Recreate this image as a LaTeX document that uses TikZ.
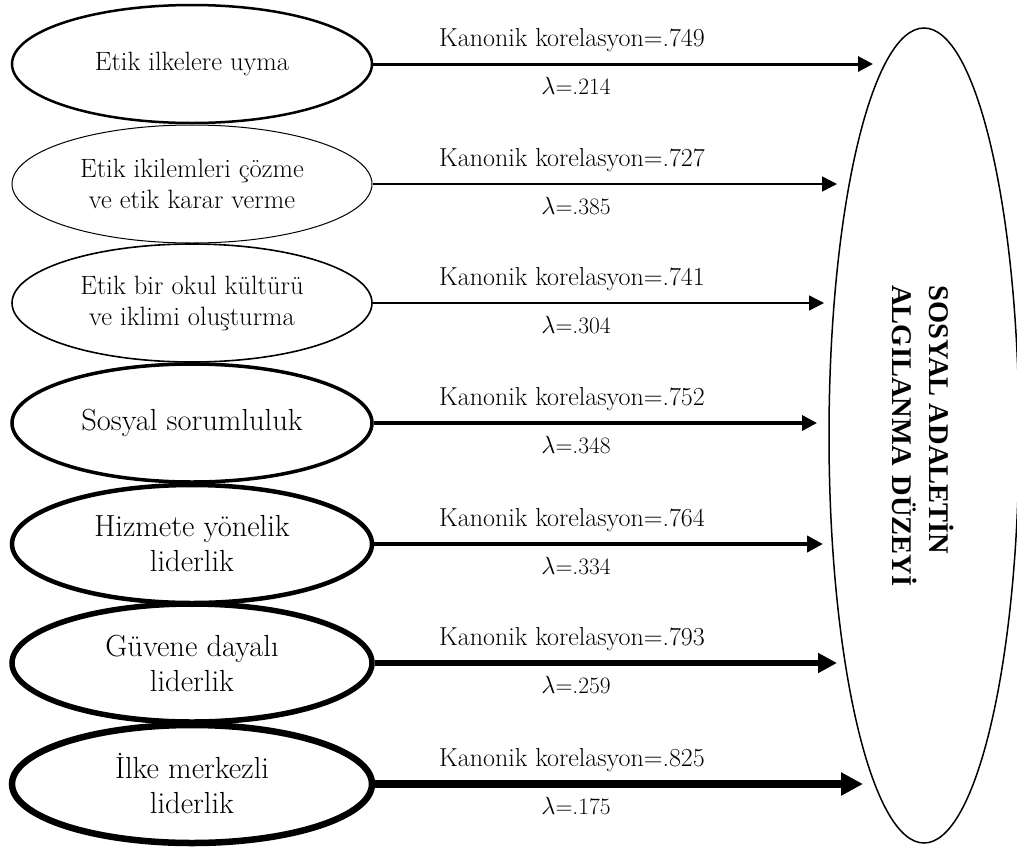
\documentclass[tikz,border=0pt]{standalone}
\usepackage{fontspec}
\newfontfamily\headfont{Liberation Serif}
\usetikzlibrary{shapes.geometric,arrows.meta}
\begin{document}
\begin{tikzpicture}[x=1pt,y=1pt,
  factor/.style={ellipse, draw, minimum width=360pt, minimum height=118pt,
    inner sep=0pt, align=center},
  smalltext/.style={font=\fontsize{26.5}{31}\selectfont},
  bigtext/.style={font=\fontsize{30.5}{35}\selectfont},
  stat/.style={font=\fontsize{26}{28}\selectfont, inner sep=0pt},
  lam/.style={font=\fontsize{23.5}{28}\selectfont, inner sep=0pt},
  link/.style={-{Triangle[length=#1pt,width=#1pt]}},
]
\useasboundingbox (0,0) rectangle (1017,-846);

% independent factors
\node[factor, smalltext, line width=2.5pt] (e1) at (192,-64) {Etik ilkelere uyma};
\node[factor, smalltext, line width=1pt]   (e2) at (192,-184) {Etik ikilemleri çözme\\ve etik karar verme};
\node[factor, smalltext, line width=1.6pt] (e3) at (192,-303) {Etik bir okul kültürü\\ve iklimi oluşturma};
\node[factor, bigtext, line width=3.5pt]   (e4) at (192,-423) {Sosyal sorumluluk};
\node[factor, bigtext, line width=4.5pt]   (e5) at (192,-544) {Hizmete yönelik\\liderlik};
\node[factor, bigtext, line width=5.5pt]   (e6) at (192,-663) {Güvene dayalı\\liderlik};
\node[factor, bigtext, line width=6.5pt]   (e7) at (192,-784) {İlke merkezli\\liderlik};

% dependent construct
\node[ellipse, draw, line width=1.5pt, minimum width=190pt, minimum height=815pt,
  inner sep=0pt] (target) at (924,-435.5) {};
\node[rotate=-90, align=left, inner sep=0pt,
  font=\headfont\bfseries\fontsize{28.5}{37}\selectfont] (title) at (923,-436)
  {SOSYAL ADALETİN\\ALGILANMA\hspace{0.35em}DÜZEYİ};

% arrow heads end here
\coordinate (t1) at (873,-64);
\coordinate (t2) at (837,-184);
\coordinate (t3) at (824,-303);
\coordinate (t4) at (817,-423);
\coordinate (t5) at (823,-544);
\coordinate (t6) at (837,-663);
\coordinate (t7) at (863,-784);

\draw[line width=3pt,   link=15] (e1.east) -- (t1);
\draw[line width=1.5pt, link=15] (e2.east) -- (t2);
\draw[line width=1.5pt, link=15] (e3.east) -- (t3);
\draw[line width=3.5pt, link=15] (e4.east) -- (t4);
\draw[line width=4.2pt, link=16] (e5.east) -- (t5);
\draw[line width=6pt,   link=19] (e6.east) -- (t6);
\draw[line width=7.5pt, link=22] (e7.east) -- (t7);

% coefficients
\node[stat] (k1) at (572,-40)  {Kanonik korelasyon=.749};
\node[lam]  (l1) at (576,-86)  {$\lambda$=.214};
\node[stat] (k2) at (572,-160) {Kanonik korelasyon=.727};
\node[lam]  (l2) at (576,-206) {$\lambda$=.385};
\node[stat] (k3) at (572,-279) {Kanonik korelasyon=.741};
\node[lam]  (l3) at (576,-325) {$\lambda$=.304};
\node[stat] (k4) at (572,-399) {Kanonik korelasyon=.752};
\node[lam]  (l4) at (576,-445) {$\lambda$=.348};
\node[stat] (k5) at (572,-520) {Kanonik korelasyon=.764};
\node[lam]  (l5) at (576,-566) {$\lambda$=.334};
\node[stat] (k6) at (572,-639) {Kanonik korelasyon=.793};
\node[lam]  (l6) at (576,-685) {$\lambda$=.259};
\node[stat] (k7) at (572,-760) {Kanonik korelasyon=.825};
\node[lam]  (l7) at (576,-806) {$\lambda$=.175};
\end{tikzpicture}
\end{document}
